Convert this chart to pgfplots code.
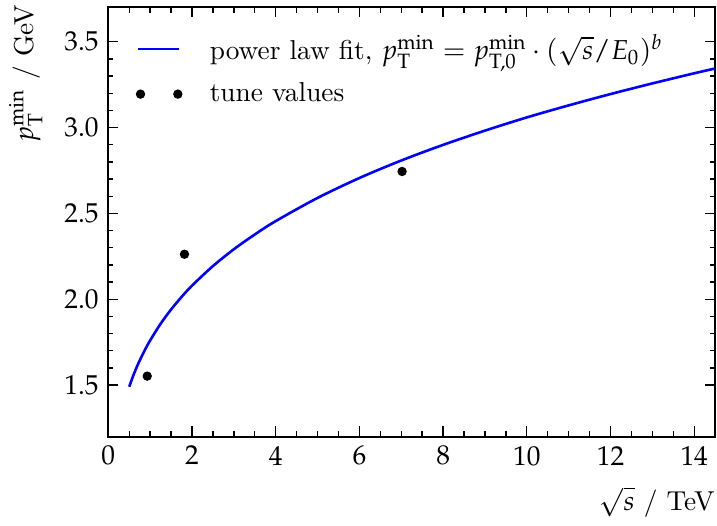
\documentclass[border=0pt]{standalone}
\usepackage{mathpazo}
\usepackage{pgfplots}
\pgfplotsset{compat=1.18}

\pgfplotsset{
    fitline legend/.style={legend image code/.code={\draw[##1] (0cm,0cm) -- (0.53cm,0cm);}},
    twodots legend/.style={legend image code/.code={
        \fill[black] (0.03cm,0cm) circle (1.5pt);
        \fill[black] (0.51cm,0cm) circle (1.5pt);}},
}

\begin{document}
\begin{tikzpicture}
\begin{axis}[
    scale only axis,
    width=222pt, height=157pt,
    xmin=0, xmax=14.5,
    ymin=1.2, ymax=3.7,
    xtick={0,2,...,14},
    ytick={1.5,2.0,2.5,3.0,3.5},
    yticklabel style={/pgf/number format/fixed, /pgf/number format/fixed zerofill, /pgf/number format/precision=1},
    minor x tick num=3,
    minor y tick num=4,
    tick align=inside,
    major tick length=3.7pt,
    minor tick length=1.9pt,
    axis line style={line width=0.75pt},
    every tick/.style={line width=0.5pt, black},
    xlabel={$\sqrt{s}$ / TeV},
    ylabel={$p_{\mathrm{T}}^{\mathrm{min}}$ / GeV},
    x label style={at={(axis description cs:1.0,-0.095)}, anchor=north east, inner xsep=0pt},
    y label style={at={(axis description cs:-0.136,1.0185)}, anchor=east, inner xsep=1.8pt},
    legend cell align=left,
    legend style={draw=none, fill=none, at={(axis description cs:0.031,0.964)},
        anchor=north west, row sep=3pt, column sep=8pt, font=\normalsize},
]
% power law fit
\addplot[blue, line width=0.95pt, smooth, fitline legend]
coordinates {
    (0.5,1.490) (0.6,1.557) (0.7,1.616) (0.8,1.668) (0.9,1.716) (1,1.760)
    (1.25,1.857) (1.5,1.940) (1.75,2.013) (2,2.079) (2.5,2.193) (3,2.291)
    (3.5,2.377) (4,2.455) (5,2.590) (6,2.706) (7,2.808) (8,2.899) (9,2.982)
    (10,3.059) (11,3.129) (12,3.195) (13,3.257) (14,3.316) (14.5,3.344)
};
\addlegendentry{power law fit, $p_{\mathrm{T}}^{\mathrm{min}} = p_{\mathrm{T},0}^{\mathrm{min}} \cdot (\sqrt{s}/E_0)^b$}
% tuned values
\addplot[only marks, mark=*, mark size=1.5pt, black, twodots legend]
coordinates {(0.93,1.552) (1.82,2.262) (7.02,2.744)};
\addlegendentry{tune values}
\end{axis}
\end{tikzpicture}
\end{document}
